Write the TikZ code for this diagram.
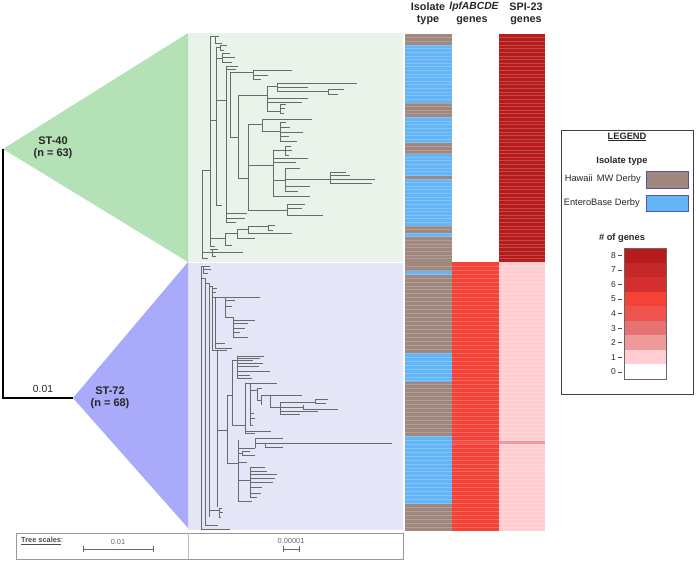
\documentclass[tikz,border=0pt]{standalone}
\usepackage{fontspec}
\setmainfont{Liberation Sans}
\usepackage{xcolor}
\usepackage{tikz}
\usetikzlibrary{arrows.meta,positioning}

\definecolor{hawaii}{HTML}{A1887F}
\definecolor{entero}{HTML}{64B5F6}
\definecolor{gn1}{HTML}{FFCDD2}
\definecolor{gn2}{HTML}{EF9A9A}
\definecolor{gn3}{HTML}{E57373}
\definecolor{gn4}{HTML}{EF5350}
\definecolor{gn5}{HTML}{F44336}
\definecolor{gn6}{HTML}{D32F2F}
\definecolor{gn7}{HTML}{C62828}
\definecolor{gn8}{HTML}{B71C1C}
\definecolor{trigreen}{HTML}{B5E1B6}
\definecolor{panelgreen}{HTML}{EAF3E9}
\definecolor{triblue}{HTML}{AAAAFB}
\definecolor{panelblue}{HTML}{E4E6F8}
\definecolor{branch}{HTML}{6A6A6A}

\begin{document}
\begin{tikzpicture}[x=1pt,y=-1pt,every node/.style={inner sep=0pt,text=black!85},
  br/.style={branch,line width=0.7pt},
  hdr/.style={font=\fontsize{10.8}{13}\selectfont\bfseries},
  stlbl/.style={font=\fontsize{11}{13}\selectfont\bfseries},
  leg/.style={font=\fontsize{9.3}{11}\selectfont},
  rowline/.style={white,opacity=0.2,line width=0.4pt},
  sbar/.style={gray!80!black,line width=0.7pt,{Bar[width=6pt]}-{Bar[width=6pt]}}]
  \useasboundingbox (0,0) rectangle (696,562);

  % collapsed clades and panels
  \fill[panelgreen] (188,33) rectangle (403,262);
  \fill[panelblue] (188,263) rectangle (403,530);
  \coordinate (apex40) at (3,149);
  \coordinate (apex72) at (73,398);
  \fill[trigreen] (apex40) -- (188,33) -- (188,262) -- cycle;
  \fill[triblue] (apex72) -- (188,262) -- (188,528) -- cycle;
  \draw[black,line width=1.1pt] (apex40) |- (apex72);
  \node[font=\fontsize{10.3}{12}\selectfont] (rootlen) at (43,389) {0.01};
  \node[stlbl] (st40) at (53,141) {ST-40};
  \node[stlbl,below=3pt of st40] (n40) {(n = 63)};
  \node[stlbl] (st72) at (110,391) {ST-72};
  \node[stlbl,below=3pt of st72] (n72) {(n = 68)};

  % ST-40 subtree
  \foreach \x/\ya/\yb in {202/170/258,210/36/246,215/36/43,216/47/205,220/45/50,222/53/62,
      226/66/222,230/72/137,253/70/79,277/83/91,328/89/94,238/95/178,267/86/111,280/104/113,
      248/124/210,262/119/131,280/122/141,273/150/196,285/146/155,285/168/191,330/172/183,
      287/204/215,225/233/245,237/229/238,248/226/233,268/225/230,212/249/256}
    \draw[br] (\x,\ya) -- (\x,\yb);
  \foreach \xa/\y/\xb in {202/170/210,202/258/208,210/36/215,215/36/219,215/43/222,210/120/216,
      216/47/220,220/45/227,220/50/224,216/58/222,222/53/230,222/57/235,222/62/232,216/100/226,
      226/66/238,226/69/236,230/72/253,253/70/292,253/75/268,253/79/261,230/137/238,238/95/267,
      267/86/277,277/83/357,277/87/308,277/91/328,328/89/344,328/94/338,267/98/308,267/102/302,
      267/111/280,280/104/286,280/108/285,280/113/284,238/178/248,248/124/262,262/119/312,
      262/131/280,280/122/286,280/127/290,280/132/303,280/136/289,280/141/297,248/165/273,
      273/150/285,285/146/291,285/150/292,285/155/289,273/158/308,273/162/296,273/196/310,
      285/168/300,273/180/285,285/179/330,330/172/346,330/175/350,330/179/375,330/183/372,
      285/186/310,285/191/298,248/210/287,287/204/305,287/208/302,287/215/323,226/213/247,
      226/218/245,226/222/236,216/205/222,210/238/225,225/245/232,225/233/237,237/238/255,
      237/229/248,248/233/292,248/226/268,268/225/275,268/230/273,210/246/215,202/252/243,
      210/249/218,212/256/216}
    \draw[br] (\xa,\y) -- (\xb,\y);

  % ST-72 subtree
  \foreach \x/\ya/\yb in {201/266/529,203/266/273,205/278/525,209/283/517,212/286/350,
      215/297/348,225/297/317,233/317/337,217/350/507,227/395/463,232/360/425,237/356/378,
      245/383/433,250/383/425,257/388/400,261/395/405,270/395/407,280/402/414,315/399/403,
      303/405/409,238/440/501,255/438/448,265/443/447,242/451/455,250/467/497,219/508/517}
    \draw[br] (\x,\ya) -- (\x,\yb);
  \foreach \xa/\y/\xb in {201/266/203,203/266/210,203/269/211,203/273/208,201/278/205,
      205/283/209,209/286/212,212/288/217,212/292/216,212/297/215,215/297/225,225/297/260,
      225/300/235,225/306/232,225/317/233,233/320/255,233/323/248,233/328/245,233/332/240,
      233/337/248,215/343/225,215/348/232,212/350/227,217/430/227,227/395/232,232/360/237,
      237/356/264,237/358/260,237/360/253,237/363/263,237/366/259,237/371/270,237/375/250,
      237/378/252,232/425/245,245/383/250,250/383/277,250/390/257,257/388/262,257/400/261,
      261/395/270,270/395/302,270/407/280,280/402/315,315/399/328,315/403/326,280/407/303,
      303/409/338,280/411/318,280/414/300,250/413/254,250/418/255,250/425/253,245/431/271,
      245/433/255,227/463/238,238/448/255,255/438/283,255/443/265,265/443/392,265/447/283,
      238/453/242,242/451/250,242/455/255,238/462/247,238/480/250,250/467/265,250/471/267,
      250/474/277,250/478/275,250/482/273,250/487/262,250/493/261,250/497/257,238/501/252,
      209/510/219,219/508/222,219/512/223,219/517/221,205/525/218,201/529/230}
    \draw[br] (\xa,\y) -- (\xb,\y);

  % heat map columns
  \foreach \ya/\yb/\c in {34/45/hawaii,45/103/entero,103/117/hawaii,117/143/entero,
      143/154/hawaii,154/176/entero,176/179/hawaii,179/226/entero,226/233/hawaii,
      233/237/entero,237/271/hawaii,271/275/entero,275/353/hawaii,353/382/entero,
      382/436/hawaii,436/504/entero,504/531/hawaii}
    \fill[\c] (405,\ya) rectangle (452,\yb);
  \fill[gn5] (452,262) rectangle (499,531);
  \fill[gn4] (452,441) rectangle (499,444);
  \fill[gn8] (499,34) rectangle (545,262);
  \fill[gn1] (499,262) rectangle (545,531);
  \fill[gn2] (499,441) rectangle (545,444);
  \foreach \i in {1,...,62}
    \draw[rowline] (405,{34+\i*3.619}) -- (545,{34+\i*3.619});
  \foreach \i in {1,...,67}
    \draw[rowline] (405,{262+\i*3.956}) -- (545,{262+\i*3.956});

  \node[hdr] (isoA) at (428,7) {Isolate};
  \node[hdr] (isoB) at (428,20.5) {type};
  \node[hdr,font=\fontsize{10.3}{13}\selectfont\bfseries\itshape] (lpfA) at (474,7) {lpfABCDE};
  \node[hdr] (lpfB) at (472,20.5) {genes};
  \node[hdr] (spiA) at (526,7) {SPI-23};
  \node[hdr] (spiB) at (526,20.5) {genes};

  % legend
  \draw[black!75,line width=0.8pt] (561,130) rectangle (693,394);
  \node[leg,font=\fontsize{9.3}{11}\selectfont\bfseries] (legtitle) at (627,137) {\underline{LEGEND}};
  \node[leg,font=\fontsize{9.3}{11}\selectfont\bfseries] (legiso) at (622,161) {Isolate type};
  \node[leg,anchor=east] (leghaw) at (641,179) {Hawaii\, MW Derby};
  \node[leg,anchor=east] (legent) at (640,203) {EnteroBase Derby};
  \fill[hawaii,draw=blue!35!gray,line width=0.5pt] (646,171) rectangle (688,188);
  \fill[entero,draw=blue!35!gray,line width=0.5pt] (646,195) rectangle (688,211);
  \node[leg,font=\fontsize{9.3}{11}\selectfont\bfseries] (leggenes) at (622,238) {\# of genes};
  \foreach \n in {0,...,8} {
    \pgfmathsetmacro{\yt}{248+(8-\n)*14.56}
    \ifnum\n=0 \fill[white] (624,\yt) rectangle (666,\yt+14.56);
    \else \fill[gn\n] (624,\yt) rectangle (666,\yt+14.56); \fi
    \draw[black!70,line width=0.5pt] (618,\yt+7.3) -- (622,\yt+7.3);
    \node[font=\fontsize{8.5}{10}\selectfont,anchor=east] (tick\n) at (616,\yt+7.3) {\n};
  }
  \draw[black!60,line width=0.5pt] (624,248) rectangle (666,379);

  % tree scales
  \draw[black!40,line width=0.6pt] (16,533) rectangle (403,559);
  \draw[black!25,line width=0.6pt] (188,533) -- (188,559);
  \node[font=\fontsize{7.4}{9}\selectfont,anchor=west,text=black!70] (tscl) at (21,541)
    {\textbf{\underline{Tree scales}}:};
  \coordinate (sa) at (83,549);
  \coordinate (sb) at (154,549);
  \coordinate (sc) at (283,549);
  \coordinate (sd) at (300,549);
  \draw[sbar] (sa) -- (sb);
  \draw[sbar] (sc) -- (sd);
  \node[font=\fontsize{7.4}{9}\selectfont,text=black!60] (tsa) at (118,542) {0.01};
  \node[font=\fontsize{7.4}{9}\selectfont,text=black!60] (tsb) at (291,541) {0.00001};
\end{tikzpicture}
\end{document}
